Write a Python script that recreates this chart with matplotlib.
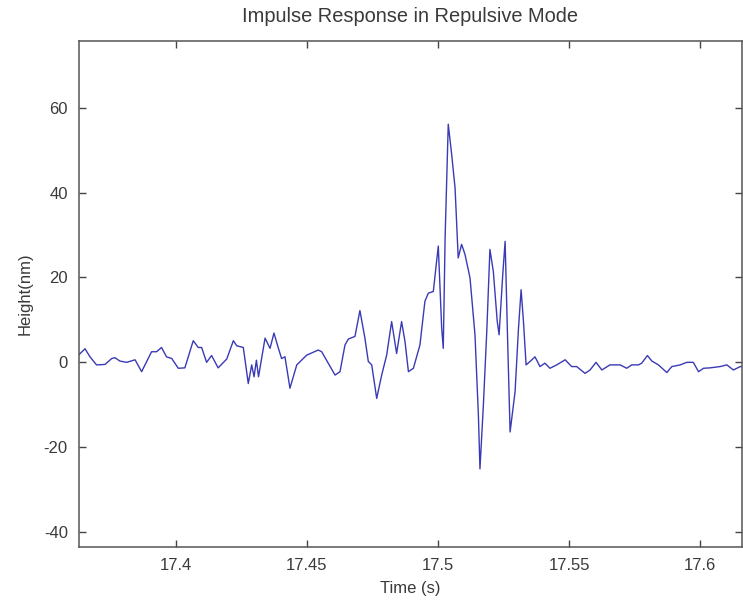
import matplotlib
matplotlib.use("Agg")
import matplotlib.pyplot as plt

# impulse response
time_s = [
    17.3630, 17.3653, 17.3672, 17.3697, 17.3729, 17.3755, 17.3767, 17.3786,
    17.3812, 17.3844, 17.3869, 17.3907, 17.3926, 17.3945, 17.3964, 17.3984,
    17.4009, 17.4034, 17.4066, 17.4085, 17.4098, 17.4117, 17.4136, 17.4161,
    17.4194, 17.4219, 17.4232, 17.4257, 17.4276, 17.4289, 17.4298, 17.4307,
    17.4315, 17.4340, 17.4359, 17.4374, 17.4390, 17.4403, 17.4416, 17.4435,
    17.4461, 17.4499, 17.4543, 17.4556, 17.4607, 17.4626, 17.4645, 17.4658,
    17.4683, 17.4702, 17.4721, 17.4734, 17.4747, 17.4766, 17.4785, 17.4804,
    17.4823, 17.4842, 17.4861, 17.4874, 17.4887, 17.4906, 17.4931, 17.4950,
    17.4963, 17.4982, 17.5001, 17.5014, 17.5020, 17.5027, 17.5039, 17.5052,
    17.5065, 17.5077, 17.5090, 17.5103, 17.5122, 17.5141, 17.5154, 17.5160,
    17.5173, 17.5186, 17.5198, 17.5211, 17.5226, 17.5233, 17.5247, 17.5256,
    17.5265, 17.5275, 17.5294, 17.5307, 17.5317, 17.5326, 17.5336, 17.5351,
    17.5370, 17.5389, 17.5408, 17.5427, 17.5453, 17.5485, 17.5510, 17.5529,
    17.5561, 17.5580, 17.5603, 17.5625, 17.5656, 17.5695, 17.5720, 17.5739,
    17.5765, 17.5777, 17.5799, 17.5816, 17.5841, 17.5873, 17.5892, 17.5924,
    17.5949, 17.5974, 17.5994, 17.6013, 17.6038, 17.6076, 17.6102, 17.6127,
    17.6153, 17.6170,
]
height_nm = [
    1.8, 3.2, 1.3, -0.6, -0.5, 0.9, 1.1, 0.3,
    0.0, 0.6, -2.2, 2.5, 2.5, 3.5, 1.3, 0.9,
    -1.4, -1.3, 5.1, 3.5, 3.5, 0.0, 1.6, -1.3,
    0.8, 5.1, 3.9, 3.5, -5.0, -0.6, -3.4, 0.5,
    -3.4, 5.7, 3.3, 6.9, 3.5, 0.9, 1.3, -6.1,
    -0.6, 1.7, 2.9, 2.5, -3.0, -2.2, 4.1, 5.5,
    6.1, 12.2, 5.7, 0.2, -0.6, -8.5, -3.0, 1.7,
    9.6, 2.1, 9.6, 4.9, -2.2, -1.4, 4.1, 14.4,
    16.3, 16.7, 27.4, 8.0, 3.3, 29.3, 56.1, 49.0,
    41.1, 24.6, 27.8, 25.4, 19.9, 6.5, -12.4, -25.1,
    -10.1, 7.3, 26.6, 21.4, 9.6, 6.5, 20.7, 28.5,
    6.5, -16.4, -6.9, 8.0, 17.1, 9.6, -0.6, 0.2,
    1.3, -1.0, -0.2, -1.4, -0.6, 0.6, -1.0, -1.0,
    -2.6, -1.8, 0.0, -1.8, -0.6, -0.6, -1.4, -0.6,
    -0.6, -0.2, 1.6, 0.3, -0.6, -2.4, -1.0, -0.6,
    0.0, 0.0, -2.2, -1.4, -1.3, -1.0, -0.6, -1.8,
    -1.0, -1.0,
]
x_ticks = [17.4, 17.45, 17.5, 17.55, 17.6]
x_tick_labels = ["17.4", "17.45", "17.5", "17.55", "17.6"]
y_ticks = [-40, -20, 0, 20, 40, 60]

plt.rcParams["font.family"] = ["Liberation Sans", "DejaVu Sans"]
plt.rcParams["font.size"] = 12
plt.rcParams["axes.unicode_minus"] = False

fig = plt.figure(figsize=(7.43, 6.04), dpi=100)
ax = fig.add_axes([0.1063, 0.0944, 0.8917, 0.8377])

ax.plot(time_s, height_nm, color="#3a3ab6", linewidth=1.0)

ax.set_xlim(17.363, 17.6158)
ax.set_ylim(-43.5, 75.7)
ax.set_xticks(x_ticks)
ax.set_xticklabels(x_tick_labels)
ax.set_yticks(y_ticks)

ax.tick_params(direction="in", length=5, width=1, colors="#444444",
               labelcolor="#3a3a3a", top=True, right=True, pad=8)
for sp in ax.spines.values():
    sp.set_color("#555555")
    sp.set_linewidth(1.1)

ax.set_title("Impulse Response in Repulsive Mode", color="#3a3a3a", pad=14)
ax.set_xlabel("Time (s)", color="#3a3a3a", labelpad=6)
ax.set_ylabel("Height(nm)", color="#3a3a3a", labelpad=8)

fig.savefig("out.png", dpi=100)
